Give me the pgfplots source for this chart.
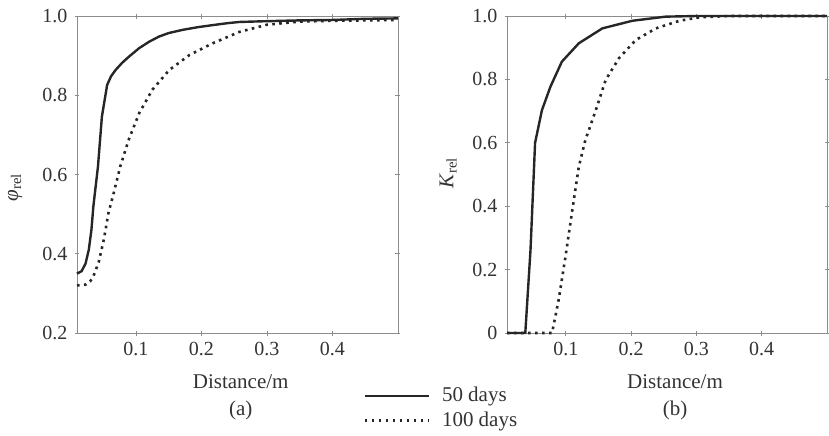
\documentclass[border=0pt]{standalone}
\usepackage{fontspec}
\setmainfont{Liberation Serif}
\usepackage{pgfplots}
\pgfplotsset{compat=1.18}

\pgfplotsset{
  panel/.style={
    scale only axis, width=160.5pt, height=158.5pt,
    xmin=0.01, xmax=0.5,
    xtick={0.1,0.2,0.3,0.4},
    axis line style={black!45},
    tick style={black!45, line width=0.4pt},
    major tick length=2.5pt,
    tick align=center,
    ticklabel style={font=\fontsize{10}{12}\selectfont, text=black!80},
    /pgf/number format/assume math mode=true,
    xlabel={Distance/m},
    label style={font=\fontsize{10.5}{12}\selectfont, text=black!80},
    clip=false,
  },
  s50/.style={line width=1.2pt, color=black!85},
  s100/.style={line width=1.3pt, color=black!85, dash pattern=on 1.3pt off 2.2pt},
}

\begin{document}
\begin{tikzpicture}
\useasboundingbox (0,0) rectangle (414.5pt,-217.5pt);

% (a) porosity ratio
\begin{axis}[panel,
  at={(38.5pt,-166.5pt)}, anchor=south west,
  ymin=0.2, ymax=1,
  ytick={0.2,0.4,0.6,0.8,1.0},
  yticklabel style={/pgf/number format/.cd, fixed, fixed zerofill, precision=1},
  ylabel={\textit{φ}\textsubscript{rel}},
  ylabel style={at={(axis description cs:-0.193,0.46)}, anchor=center},
  xlabel style={at={(axis description cs:0.51,-0.155)}, anchor=center},
  legend style={at={(axis description cs:0.891,-0.163)}, anchor=north west,
    draw=none, fill=none, inner sep=0pt, font=\fontsize{10.5}{12}\selectfont, text=black!80,
    nodes={inner sep=1pt}, row sep=1.5pt, column sep=5pt},
  legend cell align=left,
  legend image code/.code={\draw[#1] (0pt,0pt) -- (32pt,0pt);},
]
\addplot[s50] coordinates {
  (0.010,0.350) (0.017,0.356) (0.023,0.375) (0.028,0.410) (0.032,0.460)
  (0.035,0.520) (0.042,0.620) (0.048,0.746) (0.056,0.826) (0.062,0.848)
  (0.069,0.864) (0.079,0.882) (0.089,0.897) (0.105,0.919) (0.120,0.935)
  (0.135,0.948) (0.150,0.957) (0.171,0.965) (0.195,0.972) (0.217,0.977)
  (0.240,0.982) (0.258,0.985) (0.300,0.987) (0.350,0.989) (0.400,0.990)
  (0.450,0.993) (0.500,0.994)};
\addplot[s100] coordinates {
  (0.010,0.320) (0.023,0.322) (0.030,0.330) (0.035,0.343) (0.043,0.378)
  (0.051,0.436) (0.058,0.503) (0.066,0.553) (0.076,0.620) (0.089,0.688)
  (0.105,0.755) (0.125,0.814) (0.151,0.864) (0.182,0.902) (0.217,0.931)
  (0.258,0.960) (0.300,0.978) (0.350,0.986) (0.400,0.988) (0.450,0.989)
  (0.500,0.990)};
\legend{50 days, 100 days}
\node[font=\fontsize{10.5}{12}\selectfont, text=black!80] at (axis description cs:0.51,-0.243) {(a)};
\end{axis}

% (b) permeability ratio
\begin{axis}[panel,
  at={(253.5pt,-166.5pt)}, anchor=south west, width=160pt,
  ymin=0, ymax=1,
  ytick={0,0.2,0.4,0.6,0.8,1.0},
  yticklabels={0,0.2,0.4,0.6,0.8,1.0},
  ylabel={\textit{K}\textsubscript{rel}},
  ylabel style={at={(axis description cs:-0.184,0.505)}, anchor=center},
  xlabel style={at={(axis description cs:0.525,-0.155)}, anchor=center},
]
\addplot[s50] coordinates {
  (0.010,0) (0.038,0) (0.046,0.262) (0.053,0.600) (0.0635,0.703)
  (0.0765,0.777) (0.094,0.856) (0.120,0.914) (0.156,0.961) (0.202,0.985)
  (0.253,0.998) (0.300,1) (0.500,1)};
\addplot[s100] coordinates {
  (0.010,0) (0.079,0) (0.089,0.104) (0.0995,0.240) (0.110,0.388)
  (0.120,0.525) (0.130,0.609) (0.146,0.703) (0.161,0.798) (0.1815,0.867)
  (0.207,0.924) (0.238,0.961) (0.274,0.985) (0.305,0.996) (0.350,1)
  (0.500,1)};
\node[font=\fontsize{10.5}{12}\selectfont, text=black!80] at (axis description cs:0.525,-0.243) {(b)};
\end{axis}
\end{tikzpicture}
\end{document}
